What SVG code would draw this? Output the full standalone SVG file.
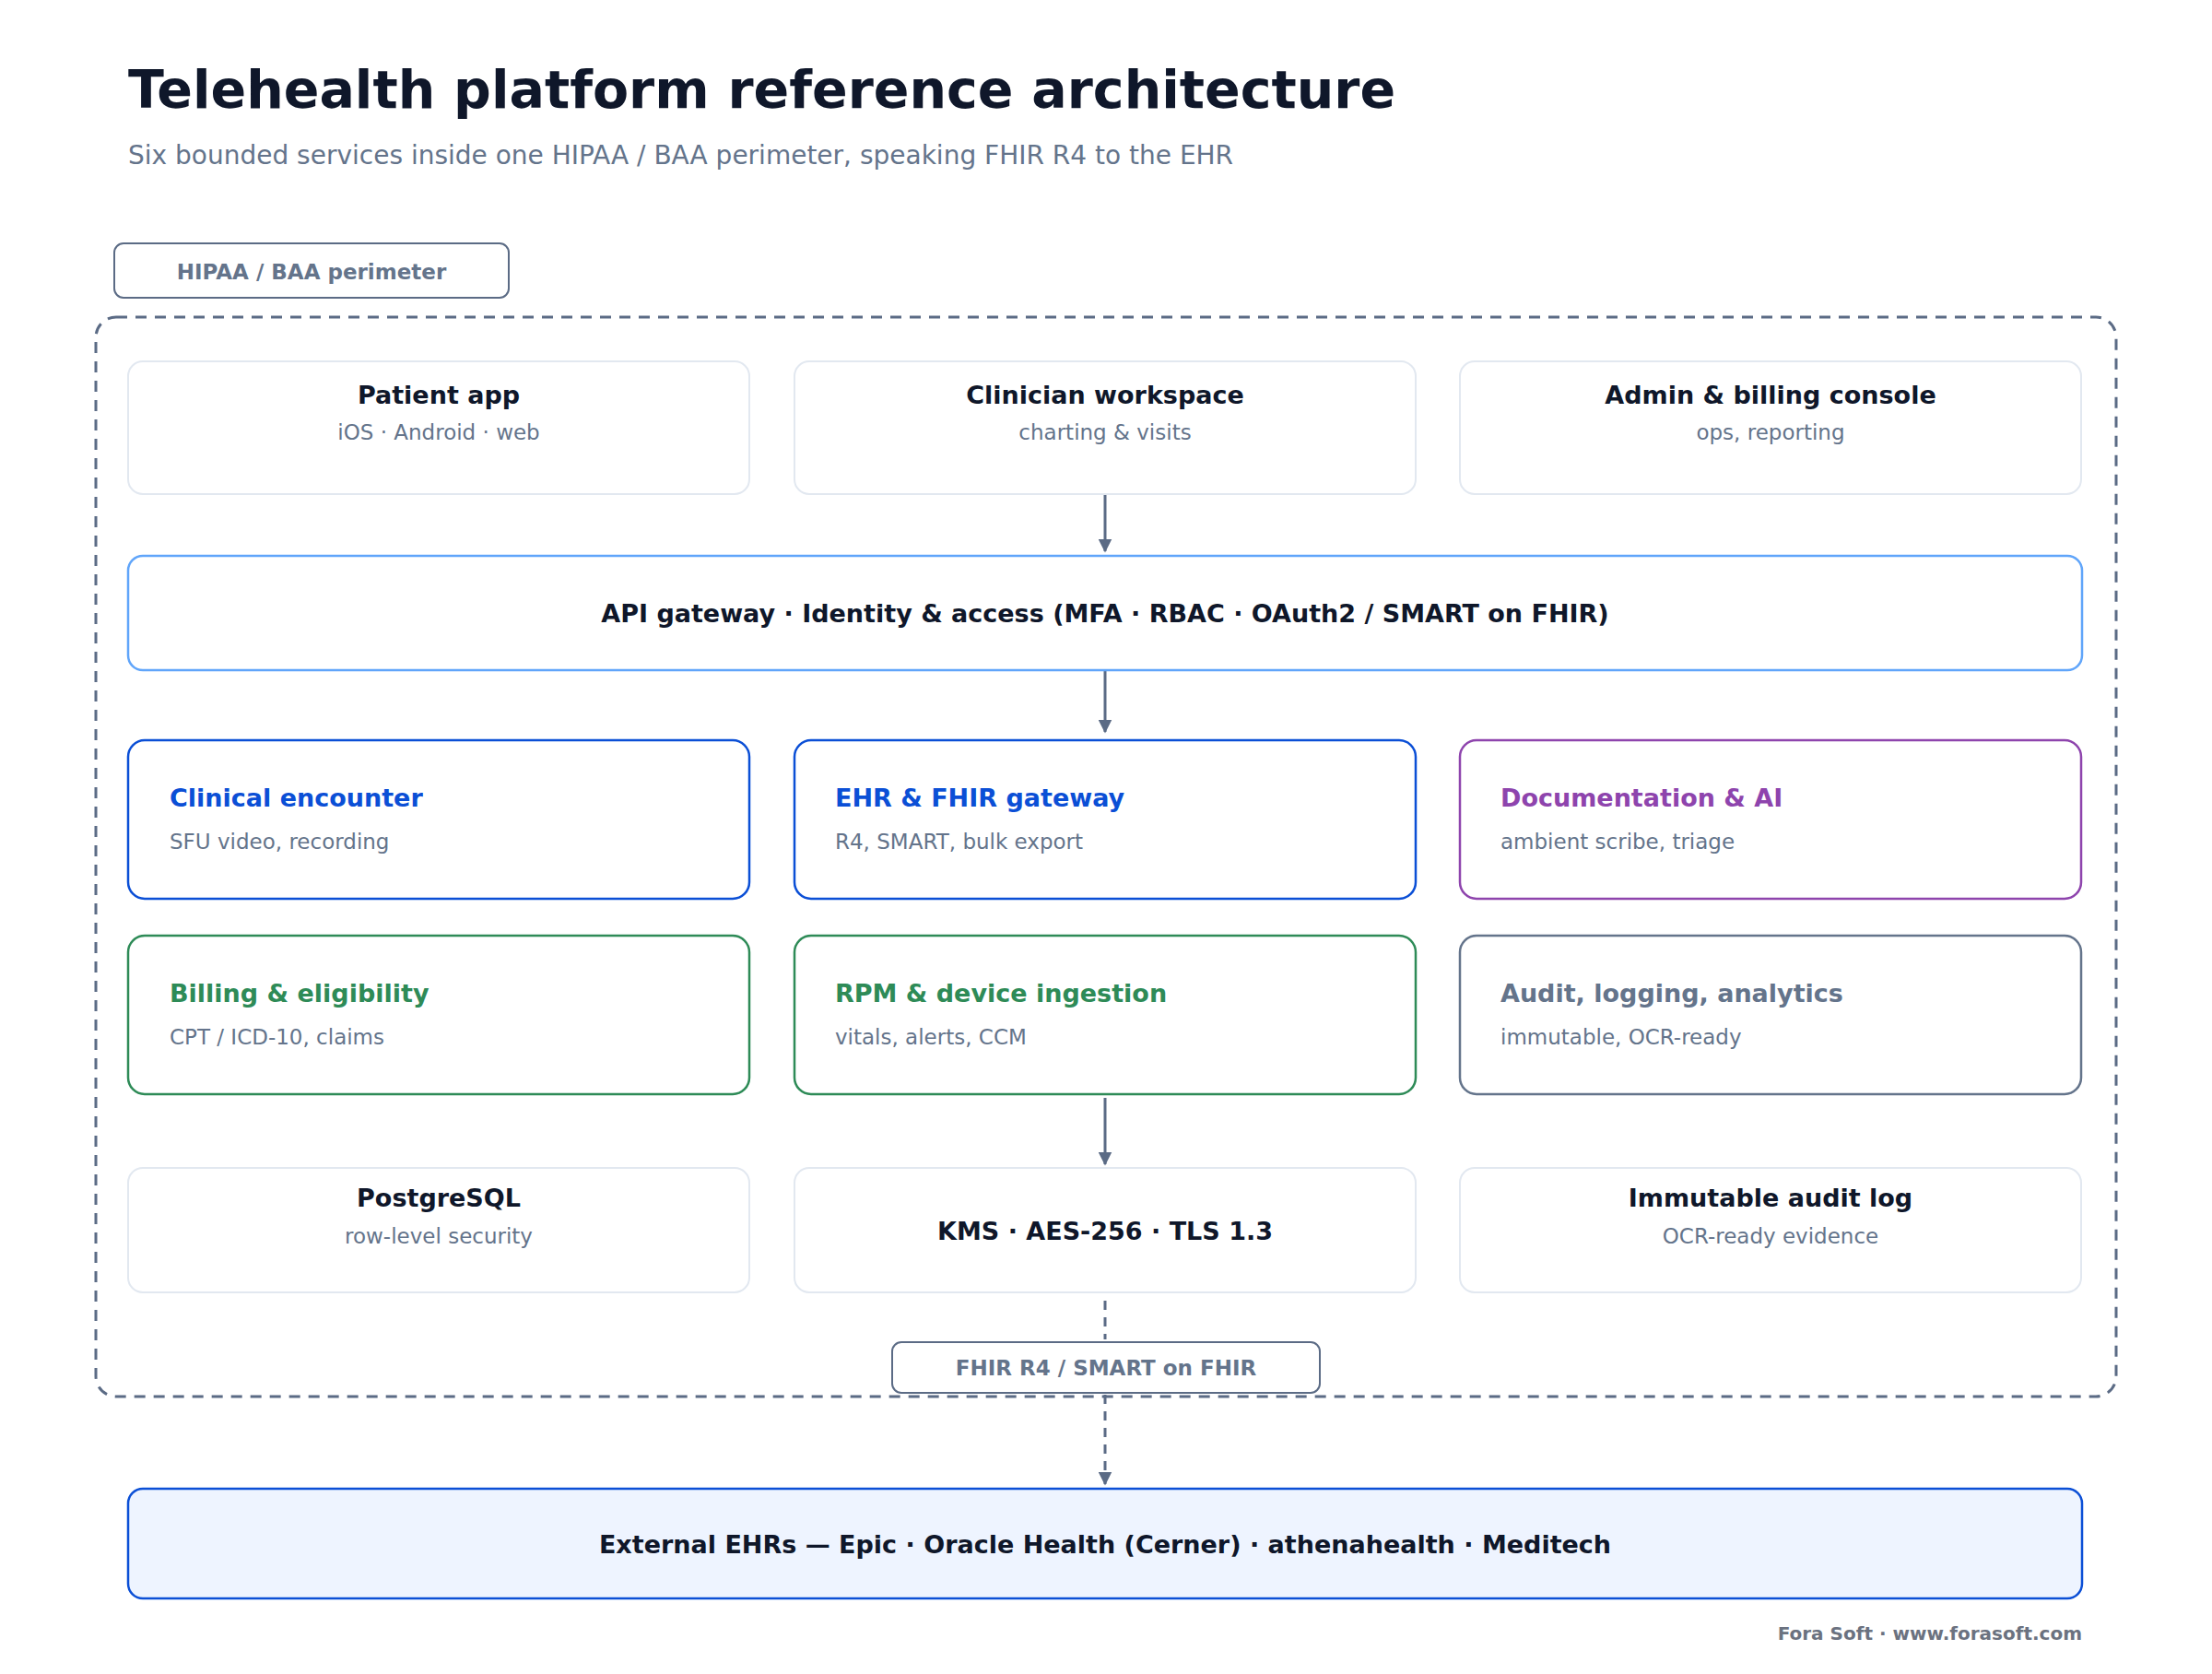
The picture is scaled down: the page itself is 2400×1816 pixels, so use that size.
<svg xmlns="http://www.w3.org/2000/svg" width="2400" height="1816" viewBox="0 0 2400 1816">
<defs>
<marker id="ah" viewBox="0 0 10 10" refX="9" refY="5" markerWidth="5" markerHeight="5" markerUnits="strokeWidth" orient="auto"><path d="M0,0 L10,5 L0,10 z" fill="#5b6b85"/></marker>
<style>
text{font-family:"DejaVu Sans",sans-serif}
.t{font-weight:bold;font-size:27px;fill:#0f172a}
.s{font-size:23px;fill:#64748b}
.plain{fill:#fff;stroke:#e2e8f0;stroke-width:2}
.svc{fill:#fff;stroke-width:2.5}
.lbl{font-weight:bold;font-size:23px;fill:#64748b}
.c{stroke:#5b6b85;stroke-width:3;fill:none}
</style>
</defs>
<rect width="2400" height="1816" fill="#fff"/>
<text x="139" y="117" font-size="57" font-weight="bold" fill="#0f172a">Telehealth platform reference architecture</text>
<text x="139" y="178" font-size="28" fill="#64748b">Six bounded services inside one HIPAA / BAA perimeter, speaking FHIR R4 to the EHR</text>

<g id="perimeter">
<rect x="104" y="344" width="2192" height="1171" rx="22" fill="none" stroke="#5b6b85" stroke-width="3" stroke-dasharray="12 9"/>
<rect x="124" y="264" width="428" height="59" rx="10" fill="#fff" stroke="#5b6b85" stroke-width="2"/>
<text x="338" y="303" text-anchor="middle" class="lbl">HIPAA / BAA perimeter</text>
</g>

<g id="connectors">
<line x1="1199" y1="536" x2="1199" y2="598" class="c" marker-end="url(#ah)"/>
<line x1="1199" y1="727" x2="1199" y2="794" class="c" marker-end="url(#ah)"/>
<line x1="1199" y1="1191" x2="1199" y2="1263" class="c" marker-end="url(#ah)"/>
<line x1="1199" y1="1411" x2="1199" y2="1453" class="c" stroke-dasharray="10 8"/>
<line x1="1199" y1="1513" x2="1199" y2="1610" class="c" stroke-dasharray="10 8" marker-end="url(#ah)"/>
</g>

<g id="patient-app"><rect x="139" y="392" width="674" height="144" rx="16" class="plain"/><text x="476" y="438" text-anchor="middle" class="t">Patient app</text><text x="476" y="477" text-anchor="middle" class="s">iOS · Android · web</text></g>
<g id="clinician"><rect x="862" y="392" width="674" height="144" rx="16" class="plain"/><text x="1199" y="438" text-anchor="middle" class="t">Clinician workspace</text><text x="1199" y="477" text-anchor="middle" class="s">charting &amp; visits</text></g>
<g id="admin"><rect x="1584" y="392" width="674" height="144" rx="16" class="plain"/><text x="1921" y="438" text-anchor="middle" class="t">Admin &amp; billing console</text><text x="1921" y="477" text-anchor="middle" class="s">ops, reporting</text></g>

<g id="gateway"><rect x="139" y="603" width="2120" height="124" rx="16" fill="#fff" stroke="#60a5fa" stroke-width="2.5"/><text x="1199" y="675" text-anchor="middle" class="t">API gateway · Identity &amp; access (MFA · RBAC · OAuth2 / SMART on FHIR)</text></g>

<g id="clinical"><rect x="139" y="803" width="674" height="172" rx="18" class="svc" stroke="#0b4fd6"/><text x="184" y="875" class="t" fill="#0b4fd6" style="fill:#0b4fd6">Clinical encounter</text><text x="184" y="921" class="s">SFU video, recording</text></g>
<g id="ehr-gw"><rect x="862" y="803" width="674" height="172" rx="18" class="svc" stroke="#0b4fd6"/><text x="906" y="875" class="t" style="fill:#0b4fd6">EHR &amp; FHIR gateway</text><text x="906" y="921" class="s">R4, SMART, bulk export</text></g>
<g id="docai"><rect x="1584" y="803" width="674" height="172" rx="18" class="svc" stroke="#8e44ad"/><text x="1628" y="875" class="t" style="fill:#8e44ad">Documentation &amp; AI</text><text x="1628" y="921" class="s">ambient scribe, triage</text></g>
<g id="billing"><rect x="139" y="1015" width="674" height="172" rx="18" class="svc" stroke="#2e8b57"/><text x="184" y="1087" class="t" style="fill:#2e8b57">Billing &amp; eligibility</text><text x="184" y="1133" class="s">CPT / ICD-10, claims</text></g>
<g id="rpm"><rect x="862" y="1015" width="674" height="172" rx="18" class="svc" stroke="#2e8b57"/><text x="906" y="1087" class="t" style="fill:#2e8b57">RPM &amp; device ingestion</text><text x="906" y="1133" class="s">vitals, alerts, CCM</text></g>
<g id="audit"><rect x="1584" y="1015" width="674" height="172" rx="18" class="svc" stroke="#64748b"/><text x="1628" y="1087" class="t" style="fill:#64748b">Audit, logging, analytics</text><text x="1628" y="1133" class="s">immutable, OCR-ready</text></g>

<g id="postgres"><rect x="139" y="1267" width="674" height="135" rx="16" class="plain"/><text x="476" y="1309" text-anchor="middle" class="t">PostgreSQL</text><text x="476" y="1349" text-anchor="middle" class="s">row-level security</text></g>
<g id="kms"><rect x="862" y="1267" width="674" height="135" rx="16" class="plain"/><text x="1199" y="1345" text-anchor="middle" class="t">KMS · AES-256 · TLS 1.3</text></g>
<g id="auditlog"><rect x="1584" y="1267" width="674" height="135" rx="16" class="plain"/><text x="1921" y="1309" text-anchor="middle" class="t">Immutable audit log</text><text x="1921" y="1349" text-anchor="middle" class="s">OCR-ready evidence</text></g>

<g id="fhir-label"><rect x="968" y="1456" width="464" height="55" rx="10" fill="#fff" stroke="#5b6b85" stroke-width="2"/><text x="1200" y="1492" text-anchor="middle" class="lbl">FHIR R4 / SMART on FHIR</text></g>

<g id="external"><rect x="139" y="1615" width="2120" height="119" rx="16" fill="#eef4ff" stroke="#0b4fd6" stroke-width="2.5"/><text x="1199" y="1685" text-anchor="middle" class="t">External EHRs — Epic · Oracle Health (Cerner) · athenahealth · Meditech</text></g>

<text x="2259" y="1779" text-anchor="end" font-size="20" font-weight="bold" fill="#6b7280">Fora Soft · www.forasoft.com</text>
</svg>
